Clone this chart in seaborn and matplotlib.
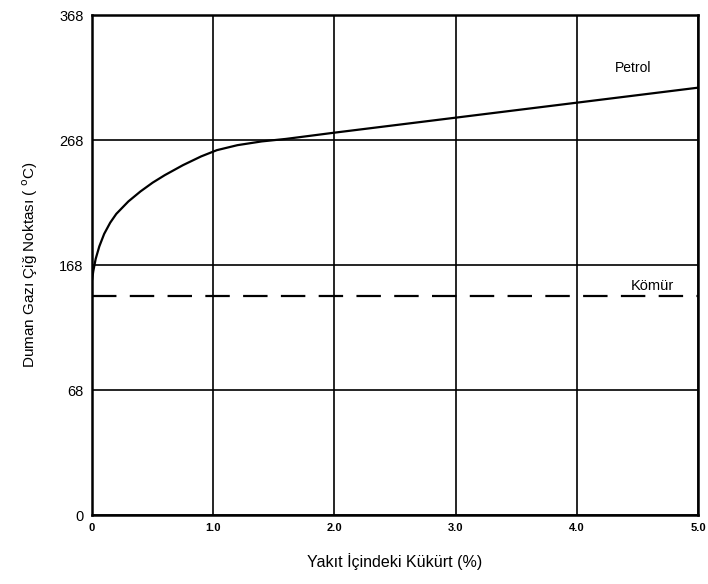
import numpy as np
import pandas as pd
import matplotlib.pyplot as plt
import seaborn as sns

# Okunan veriler (y ekseni: eşit aralıklı ölçek, etiketler taramadaki gibi)
kukurt = [0.0, 0.01, 0.03, 0.06, 0.1, 0.15, 0.2, 0.3, 0.4, 0.5, 0.6, 0.75, 0.9,
          1.03, 1.2, 1.4, 1.6, 2.0, 3.0, 4.0, 5.0]
petrol = [188, 195, 205, 215, 225, 234, 241, 251, 259, 266, 272, 280, 287,
          292, 296, 299, 301, 306, 318, 330, 342]
komur_x = [0.0, 5.0]
komur = [175, 175]

xticks = [0, 1, 2, 3, 4, 5]
xtick_labels = ['0', '1.0', '2.0', '3.0', '4.0', '5.0']
yticks = [0, 100, 200, 300, 400]
ytick_labels = ['0', '68', '168', '268', '368']

sns.set_style('white')
plt.rcParams['font.family'] = ['Liberation Sans', 'DejaVu Sans']
plt.rcParams['text.color'] = 'black'
plt.rcParams['axes.labelcolor'] = 'black'
plt.rcParams['xtick.color'] = 'black'
plt.rcParams['ytick.color'] = 'black'

fig = plt.figure(figsize=(7.08, 5.84), dpi=100)
ax = fig.add_axes([0.130, 0.118, 0.856, 0.856])

df_p = pd.DataFrame({'x': kukurt, 'y': petrol})
df_k = pd.DataFrame({'x': komur_x, 'y': komur})
sns.lineplot(data=df_p, x='x', y='y', ax=ax, color='black', lw=1.6)
sns.lineplot(data=df_k, x='x', y='y', ax=ax, color='black', lw=1.6, linestyle='--')
ax.lines[-1].set_dashes((11, 6))

ax.set_xlim(0, 5)
ax.set_ylim(0, 400)
ax.set_xticks(xticks)
ax.set_xticklabels(xtick_labels, fontsize=8, fontweight='bold')
ax.set_yticks(yticks)
ax.set_yticklabels(ytick_labels, fontsize=10.5)
ax.tick_params(length=0, pad=6)
ax.grid(True, color='black', lw=1.2)
ax.set_axisbelow(True)
for s in ax.spines.values():
    s.set_color('black')
    s.set_linewidth(1.8)

ax.text(4.46, 358, 'Petrol', fontsize=10, ha='center', va='center')
ax.text(4.62, 183, 'Kömür', fontsize=10.5, ha='center', va='center')

ax.set_xlabel('Yakıt İçindeki Kükürt (%)', fontsize=11.5, labelpad=14)
ax.set_ylabel('Duman Gazı Çiğ Noktası ( $^{\\mathrm{o}}$C)', fontsize=11, labelpad=14)

fig.savefig('out.png', dpi=100, facecolor='white')
